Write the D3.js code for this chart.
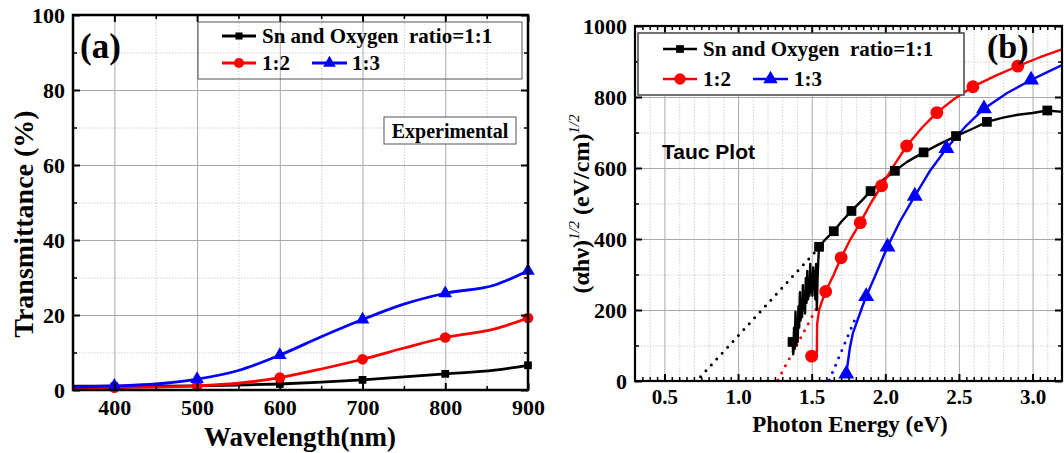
<!DOCTYPE html>
<html>
<head>
<meta charset="utf-8">
<script src="https://cdn.jsdelivr.net/npm/d3@7"></script>
<style>
  body { margin: 0; background: white; }
  text { font-family: 'Liberation Serif', 'Times New Roman', serif; font-weight: bold; fill: black; }
  .pre { white-space: pre; }
</style>
</head>
<body>
<div id="chart"></div>
<script>

// ---- panel (a): transmittance ----
var wavelength = [350, 400, 450, 500, 550, 600, 650, 700, 750, 800, 860, 900];
var trans11 = [1.0, 1.0, 1.0, 1.1, 1.3, 1.6, 2.1, 2.7, 3.5, 4.3, 5.3, 6.6];
var trans12 = [0.4, 0.6, 0.8, 1.1, 1.8, 3.3, 5.6, 8.2, 11.2, 14.0, 16.3, 19.2];
var trans13 = [0.8, 1.1, 1.6, 2.9, 5.2, 9.3, 14.2, 18.8, 22.9, 25.8, 28.0, 31.8];
var markWavelength = [400, 500, 600, 700, 800, 900];
var xTicksA = [400, 500, 600, 700, 800, 900];
var yTicksA = [0, 20, 40, 60, 80, 100];

// ---- panel (b): Tauc plot ----
var tauc11 = [[1.37,110],[1.375,75],[1.38,150],[1.385,90],[1.39,195],[1.395,120],[1.40,170],[1.405,110],
  [1.41,210],[1.415,150],[1.42,250],[1.425,170],[1.43,230],[1.435,180],[1.44,270],[1.445,200],[1.45,250],
  [1.455,190],[1.46,290],[1.465,220],[1.47,310],[1.475,230],[1.48,280],[1.485,240],[1.49,330],[1.495,250],
  [1.50,300],[1.505,240],[1.51,320],[1.515,260],[1.52,310],[1.525,230],[1.53,330],[1.535,200],[1.54,290],
  [1.545,340],[1.55,378],[1.60,402],[1.65,422],[1.70,448],[1.77,479],[1.84,508],[1.90,535],[1.98,565],
  [2.065,592],[2.15,618],[2.26,644],[2.37,668],[2.48,690],[2.6,712],[2.69,730],[2.8,742],[2.9,750],
  [3.0,755],[3.1,762],[3.2,758]];
var tauc12 = [[1.50,70],[1.52,72],[1.535,80],[1.537,160],[1.55,200],[1.57,225],[1.595,252],[1.65,300],
  [1.70,347],[1.76,397],[1.83,446],[1.90,500],[1.975,550],[2.06,608],[2.145,662],[2.25,714],[2.35,756],
  [2.47,795],[2.595,829],[2.75,860],[2.90,887],[3.05,912],[3.2,934]];
var tauc13 = [[1.735,20],[1.745,50],[1.76,95],[1.78,135],[1.81,170],[1.84,205],[1.87,238],[1.94,305],
  [2.015,378],[2.1,450],[2.2,521],[2.3,590],[2.415,655],[2.54,715],[2.67,767],[2.83,812],[2.99,848],
  [3.1,870],[3.2,890]];
var taucMark11 = [[1.37,110],[1.55,378],[1.65,422],[1.77,479],[1.90,535],[2.065,592],[2.26,644],[2.48,690],[2.69,730],[3.10,762]];
var taucMark12 = [[1.50,70],[1.595,252],[1.70,347],[1.83,446],[1.975,550],[2.145,662],[2.35,756],[2.595,829],[2.90,887]];
var taucMark13 = [[1.735,20],[1.87,238],[2.015,378],[2.2,521],[2.415,655],[2.67,767],[2.99,848]];
var fit11 = [[0.745,12],[1.52,362]];
var fit12 = [[1.27,3],[1.54,210]];
var fit13 = [[1.62,3],[1.80,180]];
var xTicksB = [0.5, 1.0, 1.5, 2.0, 2.5, 3.0];
var yTicksB = [0, 200, 400, 600, 800, 1000];

var seriesNames = ['Sn and Oxygen  ratio=1:1', '1:2', '1:3'];
var seriesColors = ['#000000', '#ff0000', '#0000ff'];
var seriesSymbols = [d3.symbolSquare, d3.symbolCircle, d3.symbolTriangle];

var serif = "'Liberation Serif', 'Times New Roman', serif";


var svg = d3.select('#chart').append('svg').attr('width', 1064).attr('height', 453);

function appendText(g, x, y, size, anchor, txt, cls) {
  return g.append('text')
    .attr('class', cls || null)
    .attr('x', x).attr('y', y)
    .attr('text-anchor', anchor)
    .style('font-size', size + 'px')
    .text(txt);
}

function drawGrid(g, x, y, majX, minX, majY, minY, w, h) {
  g.append('g').attr('transform', 'translate(0,' + h + ')')
    .call(d3.axisBottom(x).tickValues(minX).tickSize(-h).tickFormat(''))
    .call(function(a) { a.select('.domain').remove();
      a.selectAll('line').attr('stroke', '#d0d0d0').attr('stroke-dasharray', '1.5 1.5'); });
  g.append('g')
    .call(d3.axisLeft(y).tickValues(minY).tickSize(-w).tickFormat(''))
    .call(function(a) { a.select('.domain').remove();
      a.selectAll('line').attr('stroke', '#d0d0d0').attr('stroke-dasharray', '1.5 1.5'); });
  g.append('g').attr('transform', 'translate(0,' + h + ')')
    .call(d3.axisBottom(x).tickValues(majX).tickSize(-h).tickFormat(''))
    .call(function(a) { a.select('.domain').remove(); a.selectAll('line').attr('stroke', '#a8a8a8'); });
  g.append('g')
    .call(d3.axisLeft(y).tickValues(majY).tickSize(-w).tickFormat(''))
    .call(function(a) { a.select('.domain').remove(); a.selectAll('line').attr('stroke', '#a8a8a8'); });
}

function drawFrame(g, x, y, majX, minX, majY, minY, w, h, fmtX, fmtY, fsX, fsY, padX, padY, lw) {
  // inward ticks on all four sides
  var sides = [
    [d3.axisBottom, x, 'translate(0,' + h + ')', majX, minX, true],
    [d3.axisTop, x, 'translate(0,0)', majX, minX, false],
    [d3.axisLeft, y, 'translate(0,0)', majY, minY, true],
    [d3.axisRight, y, 'translate(' + w + ',0)', majY, minY, false]
  ];
  sides.forEach(function(s) {
    g.append('g').attr('transform', s[2])
      .call(s[0](s[1]).tickValues(s[4]).tickSize(-4).tickFormat(''))
      .call(function(a) { a.select('.domain').remove(); a.selectAll('line').attr('stroke-width', 1.5); });
    var isX = (s[1] === x);
    var ax = s[0](s[1]).tickValues(s[3]).tickSize(-7);
    if (s[5]) {
      ax.tickFormat(isX ? fmtX : fmtY).tickPadding(isX ? padX : padY);
    } else {
      ax.tickFormat('');
    }
    g.append('g').attr('transform', s[2]).call(ax)
      .attr('font-family', serif)
      .attr('font-size', isX ? fsX : fsY)
      .call(function(a) {
        a.select('.domain').remove();
        a.selectAll('line').attr('stroke', 'black').attr('stroke-width', 2);
        a.selectAll('text').attr('fill', 'black')
          .style('font-family', serif)
          .style('font-size', (isX ? fsX : fsY) + 'px');
      });
  });
  g.append('rect').attr('x', 0).attr('y', 0).attr('width', w).attr('height', h)
    .attr('fill', 'none').attr('stroke', 'black').attr('stroke-width', lw);
}

function drawMarkers(g, pts, x, y, sym, size, color) {
  g.selectAll(null).data(pts).enter().append('path')
    .attr('d', d3.symbol().type(sym).size(size))
    .attr('transform', function(d) { return 'translate(' + x(d[0]) + ',' + y(d[1]) + ')'; })
    .attr('fill', color);
}

function legendRow(g, x1, x2, yy, i, size, lw) {
  g.append('line').attr('x1', x1).attr('x2', x2).attr('y1', yy).attr('y2', yy)
    .attr('stroke', seriesColors[i]).attr('stroke-width', lw);
  g.append('path').attr('d', d3.symbol().type(seriesSymbols[i]).size(size))
    .attr('transform', 'translate(' + ((x1 + x2) / 2) + ',' + yy + ')')
    .attr('fill', seriesColors[i]);
}


// ================= panel (a) =================
var aL = 73, aT = 15, aW = 528 - 73, aH = 390 - 15;
var gA = svg.append('g').attr('transform', 'translate(' + aL + ',' + aT + ')');
var xA = d3.scaleLinear().domain([350, 900]).range([0, aW]);
var yA = d3.scaleLinear().domain([0, 100]).range([aH, 0]);

drawGrid(gA, xA, yA, xTicksA, d3.range(450, 900, 100), yTicksA.slice(1, 5), d3.range(10, 100, 20), aW, aH);

var seriesA = [trans11, trans12, trans13];
var lineA = d3.line().curve(d3.curveMonotoneX);
seriesA.forEach(function(vals, i) {
  var pts = wavelength.map(function(w, k) { return [xA(w), yA(vals[k])]; });
  gA.append('path').attr('d', lineA(pts)).attr('fill', 'none')
    .attr('stroke', seriesColors[i]).attr('stroke-width', 2.8);
  var mk = markWavelength.map(function(w) { return [w, vals[wavelength.indexOf(w)]]; });
  drawMarkers(gA, mk, xA, yA, seriesSymbols[i], [60, 90, 80][i], seriesColors[i]);
});

drawFrame(gA, xA, yA, xTicksA, d3.range(450, 900, 100), yTicksA, d3.range(10, 100, 20), aW, aH,
  d3.format('d'), d3.format('d'), 22, 22, 9, 8, 2.5);

// legend (a)
gA.append('rect').attr('x', 198 - aL).attr('y', 22 - aT).attr('width', 324).attr('height', 57)
  .attr('fill', 'none').attr('stroke', '#555').attr('stroke-width', 1);
legendRow(gA, 222 - aL, 256 - aL, 36 - aT, 0, 50, 2.8);
legendRow(gA, 222 - aL, 256 - aL, 63 - aT, 1, 80, 2.8);
legendRow(gA, 312 - aL, 347 - aL, 63 - aT, 2, 70, 2.8);
appendText(gA, 262 - aL, 43 - aT, 21, 'start', seriesNames[0], 'pre');
appendText(gA, 262 - aL, 70 - aT, 21, 'start', seriesNames[1]);
appendText(gA, 352 - aL, 70 - aT, 21, 'start', seriesNames[2]);

gA.append('rect').attr('x', 384 - aL).attr('y', 117 - aT).attr('width', 132).attr('height', 27)
  .attr('fill', 'white').attr('stroke', '#555').attr('stroke-width', 1);
appendText(gA, 450 - aL, 138 - aT, 20, 'middle', 'Experimental');
appendText(gA, 80 - aL, 58 - aT, 35, 'start', '(a)');

appendText(svg, 300, 446, 27, 'middle', 'Wavelength(nm)');
appendText(svg, 0, 0, 28, 'middle', 'Transmittance (%)')
  .attr('transform', 'translate(33,224) rotate(-90)');


// ================= panel (b) =================
var bL = 635, bT = 26, bW = 1062 - 635, bH = 381 - 26;
var gB = svg.append('g').attr('transform', 'translate(' + bL + ',' + bT + ')');
var xB = d3.scaleLinear().domain([0.3, 3.2]).range([0, bW]);
var yB = d3.scaleLinear().domain([0, 1000]).range([bH, 0]);

var minGridX = d3.range(4, 33).map(function(k) { return k / 10; })
  .filter(function(v) { return Math.abs(v * 2 - Math.round(v * 2)) > 0.01; });
drawGrid(gB, xB, yB, xTicksB, minGridX, yTicksB.slice(1, 5), d3.range(100, 1000, 200), bW, bH);

var lineB = d3.line().x(function(d) { return xB(d[0]); }).y(function(d) { return yB(d[1]); });
[fit11, fit12, fit13].forEach(function(f, i) {
  gB.append('path').attr('d', lineB(f)).attr('fill', 'none')
    .attr('stroke', seriesColors[i]).attr('stroke-width', 3)
    .attr('stroke-linecap', 'round').attr('stroke-dasharray', '0 8');
});
[tauc11, tauc12, tauc13].forEach(function(s, i) {
  gB.append('path').attr('d', lineB(s)).attr('fill', 'none')
    .attr('stroke', seriesColors[i]).attr('stroke-width', 2.4).attr('stroke-linejoin', 'round');
});
drawMarkers(gB, taucMark11, xB, yB, d3.symbolSquare, 95, seriesColors[0]);
drawMarkers(gB, taucMark12, xB, yB, d3.symbolCircle, 130, seriesColors[1]);
drawMarkers(gB, taucMark13, xB, yB, d3.symbolTriangle, 110, seriesColors[2]);

var minTickX = d3.range(7, 64).map(function(k) { return k / 20; })
  .filter(function(v) { return Math.abs(v * 2 - Math.round(v * 2)) > 0.01; });
drawFrame(gB, xB, yB, xTicksB, minTickX, yTicksB, d3.range(100, 1000, 200), bW, bH,
  d3.format('.1f'), d3.format('d'), 21, 22, 8, 8, 2.2);

// legend (b)
gB.append('rect').attr('x', 638 - bL).attr('y', 33 - bT).attr('width', 326).attr('height', 62)
  .attr('fill', 'white').attr('stroke', '#444').attr('stroke-width', 1.5);
legendRow(gB, 663 - bL, 697 - bL, 49 - bT, 0, 60, 2.6);
legendRow(gB, 663 - bL, 697 - bL, 79 - bT, 1, 100, 2.6);
legendRow(gB, 753 - bL, 788 - bL, 79 - bT, 2, 90, 2.6);
appendText(gB, 703 - bL, 56 - bT, 21, 'start', seriesNames[0], 'pre');
appendText(gB, 703 - bL, 86 - bT, 21, 'start', seriesNames[1]);
appendText(gB, 794 - bL, 86 - bT, 21, 'start', seriesNames[2]);

appendText(gB, 987 - bL, 58 - bT, 34, 'start', '(b)');
appendText(gB, 662 - bL, 159 - bT, 21, 'start', 'Tauc Plot')
  .style('font-family', "'Liberation Sans', Arial, sans-serif");

appendText(svg, 850, 432, 23, 'middle', 'Photon Energy (eV)');
var yt = appendText(svg, 0, 0, 24, 'middle', '(αhν)').attr('transform', 'translate(589,204) rotate(-90)');
yt.append('tspan').attr('dy', -10).style('font-size', '15px').style('font-style', 'italic').style('font-weight', 'normal').text('1/2');
yt.append('tspan').attr('dy', 10).text(' (eV/cm)');
yt.append('tspan').attr('dy', -10).style('font-size', '15px').style('font-style', 'italic').style('font-weight', 'normal').text('1/2');

</script>
</body>
</html>
